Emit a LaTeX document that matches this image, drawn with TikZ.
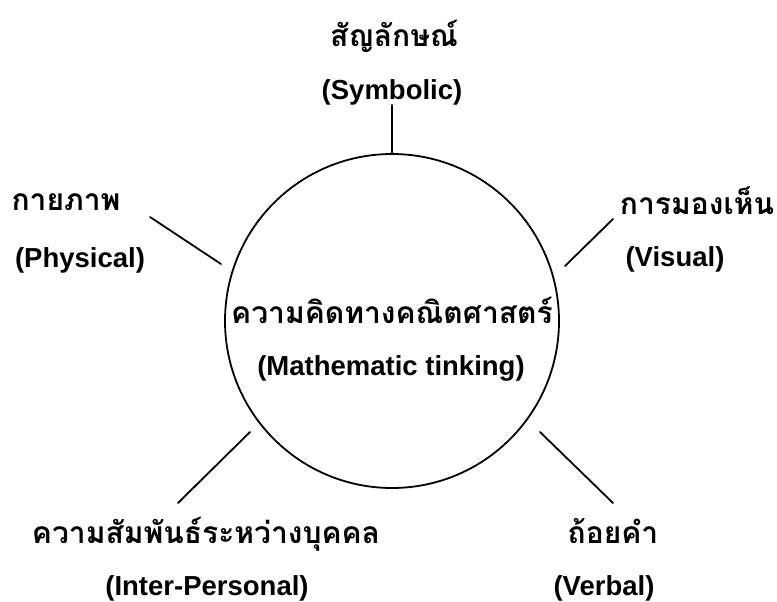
\documentclass[tikz,border=0pt]{standalone}
\usepackage{fontspec}
\setmainfont{Liberation Sans}
\newfontfamily\thaifont[Script=Thai]{Loma}
\tikzset{
  thlabel/.style={font=\thaifont\bfseries\fontsize{30}{33}\selectfont, inner sep=0pt},
  enlabel/.style={font=\bfseries\fontsize{27.5}{31}\selectfont, inner sep=0pt},
  ring/.style={draw, circle, line width=1.8pt, minimum size=334pt, inner sep=0pt},
  spoke/.style={line width=1.8pt, line cap=round},
}

\begin{document}
\begin{tikzpicture}[x=1pt,y=-1pt]
  \useasboundingbox (0,0) rectangle (777,602);
  % the central ring and its title
  \node[ring] (core) at (392,321) {};
  \node[thlabel] (core-th) at (392,310) {ความคิดทางคณิตศาสตร์};
  \node[enlabel] (core-en) at (391,368) {(Mathematic tinking)};
  % the five views round it
  \node[thlabel] (symb-th) at (394,36) {สัญลักษณ์};
  \node[enlabel] (symb-en) at (392,92) {(Symbolic)};
  \node[thlabel] (phys-th) at (66,202) {กายภาพ};
  \node[enlabel] (phys-en) at (80,260) {(Physical)};
  \node[thlabel] (vis-th) at (697,201) {การมองเห็น};
  \node[enlabel] (vis-en) at (675,259) {(Visual)};
  \node[thlabel] (inter-th) at (206,534) {ความสัมพันธ์ระหว่างบุคคล};
  \node[enlabel] (inter-en) at (207,588) {(Inter-Personal)};
  \node[thlabel] (verb-th) at (613,531) {ถ้อยคำ};
  \node[enlabel] (verb-en) at (604,588) {(Verbal)};
  % spoke ends
  \coordinate (phys-out) at (150,217);  \coordinate (phys-in) at (221,264);
  \coordinate (vis-out) at (613,219);   \coordinate (vis-in) at (565,266);
  \coordinate (inter-out) at (178,503); \coordinate (inter-in) at (250,432);
  \coordinate (verb-out) at (613,503);  \coordinate (verb-in) at (540,432);
  % spokes
  \draw[spoke] (symb-en.south) -- (core.north);
  \draw[spoke] (phys-out) -- (phys-in);
  \draw[spoke] (vis-out) -- (vis-in);
  \draw[spoke] (inter-out) -- (inter-in);
  \draw[spoke] (verb-out) -- (verb-in);
\end{tikzpicture}
\end{document}
